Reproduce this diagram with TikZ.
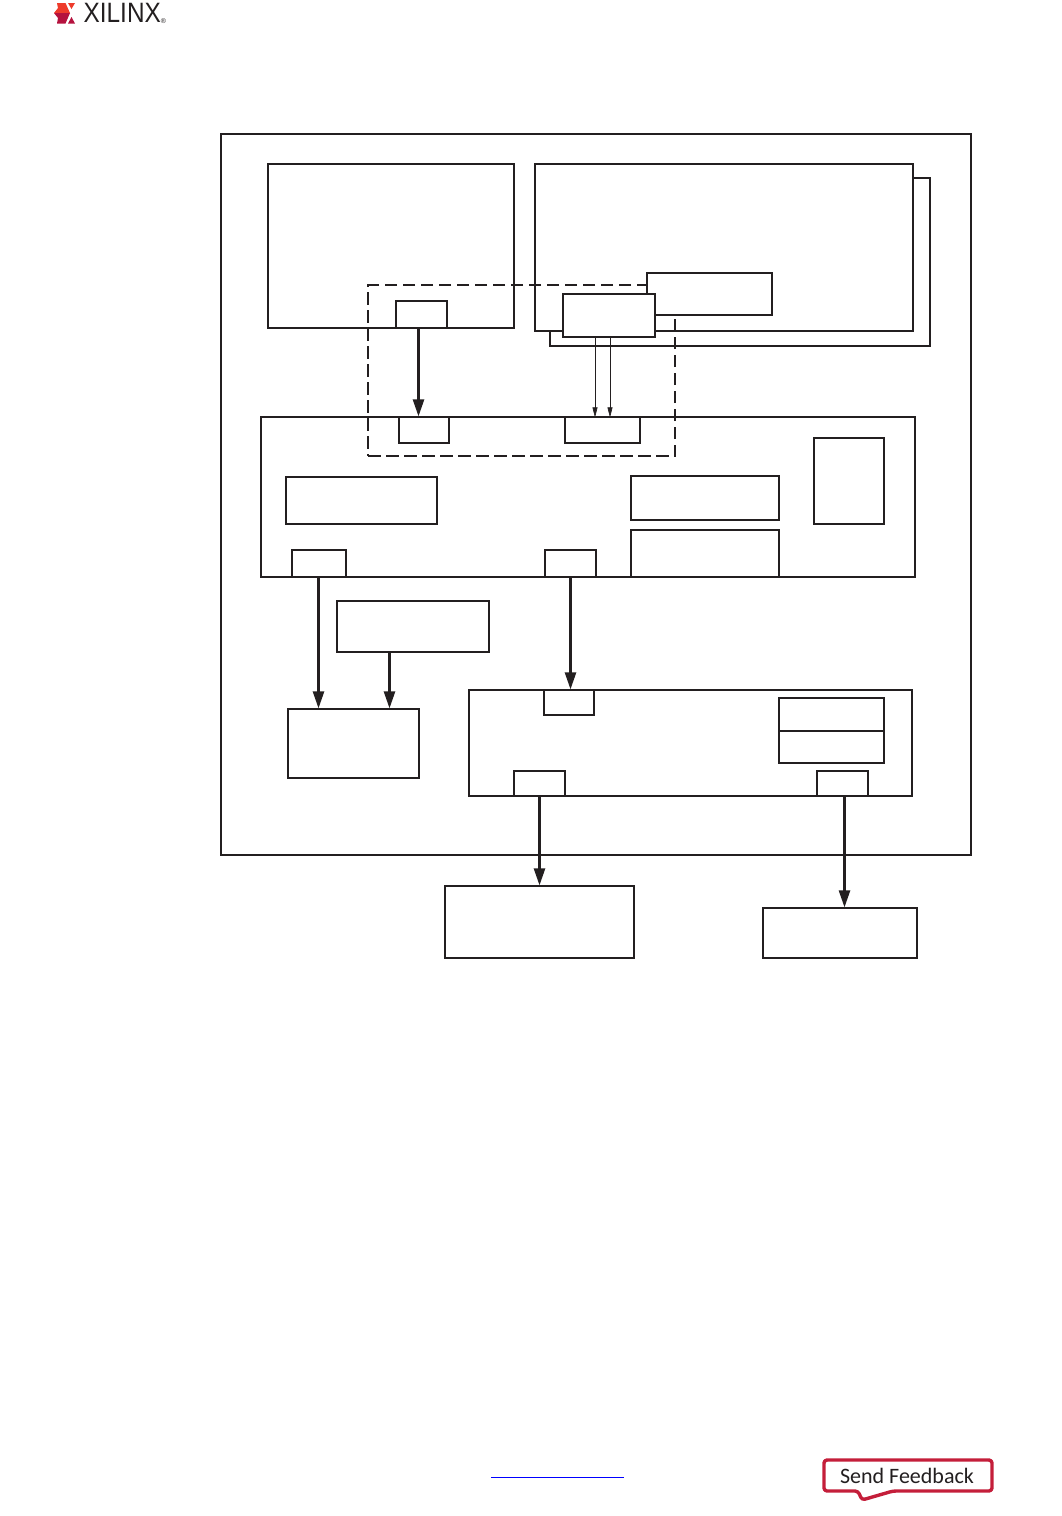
\documentclass[tikz,border=0pt]{standalone}
\usepackage{fontspec}
\usetikzlibrary{arrows.meta}
\newfontfamily\logofont{Liberation Sans}
\newfontfamily\feedfont{Carlito}
\definecolor{lineblk}{HTML}{231F20}
\definecolor{xlred}{HTML}{C41E3A}
\definecolor{xlorange}{HTML}{EE3B2B}
\definecolor{xlcrimson}{HTML}{B5123E}
\tikzstyle{blk}=[rectangle, draw=lineblk, fill=white, line width=1.2pt, inner sep=0pt]
\tikzstyle{dashbox}=[rectangle, draw=lineblk, line width=1.3pt, inner sep=0pt, dash pattern=on 12.5pt off 5.5pt]
\tikzstyle{dgraph}=[-{Triangle[length=17pt,width=11pt]}, draw=lineblk, line width=2.5pt]
\tikzstyle{tgraph}=[-{Triangle[length=10pt,width=5pt]}, shorten >=-1pt, draw=lineblk, line width=0.6pt]
\begin{document}
\begin{tikzpicture}[x=1pt,y=-1pt]
\useasboundingbox (0,0) rectangle (1062,1516);
% logo
\fill[xlorange] (57,3) -- (65.5,3) -- (70,13) -- (54,13) -- (58,8) -- cycle;
\fill[xlorange] (68,3) -- (75,3) -- (71.5,9) -- cycle;
\fill[xlcrimson] (54,13) -- (70,13) -- (65.5,23.5) -- (57,23.5) -- (58,18) -- cycle;
\fill[xlcrimson] (71.5,17) -- (75,23.5) -- (68,23.5) -- cycle;
\node[inner sep=0pt, anchor=west, text=lineblk, font=\logofont\fontsize{28}{28}\selectfont, xscale=0.87] (logo) at (83.5,13) {XILINX};
\node[inner sep=0pt, text=lineblk, font=\logofont\fontsize{7}{7}\selectfont] (reg) at (163.5,21) {\textregistered};
% outer
\node[blk,minimum width=750pt,minimum height=721pt] (chip) at (596,494.5) {};
\node[blk,minimum width=246pt,minimum height=164pt] (left) at (391,246) {};
\node[blk,minimum width=380pt,minimum height=168pt] (back) at (740,262) {};
\node[blk,minimum width=378pt,minimum height=167pt] (front) at (724,247.5) {};
\node[blk,minimum width=51pt,minimum height=27pt] (lport) at (421.5,314.5) {};
% middle
\node[blk,minimum width=654pt,minimum height=160pt] (main) at (588,497) {};
\node[dashbox,minimum width=307pt,minimum height=171pt] (dash) at (521.5,370.5) {};
\node[blk,minimum width=125pt,minimum height=42pt] (upper) at (709.5,294) {};
\node[blk,minimum width=92pt,minimum height=43pt] (lower) at (609,315.5) {};
\node[blk,minimum width=50pt,minimum height=26pt] (mport) at (424,430) {};
\node[blk,minimum width=75pt,minimum height=26pt] (nport) at (602.5,430) {};
\node[blk,minimum width=151pt,minimum height=47pt] (mleft) at (361.5,500.5) {};
\node[blk,minimum width=148pt,minimum height=44pt] (mright) at (705,498) {};
\node[blk,minimum width=148pt,minimum height=47pt] (mbot) at (705,553.5) {};
\node[blk,minimum width=70pt,minimum height=86pt] (mtall) at (849,481) {};
\node[blk,minimum width=54pt,minimum height=27pt] (oport) at (319,563.5) {};
\node[blk,minimum width=51pt,minimum height=27pt] (pport) at (570.5,563.5) {};
% lower
\node[blk,minimum width=152pt,minimum height=51pt] (side) at (413,626.5) {};
\node[blk,minimum width=131pt,minimum height=69pt] (mem) at (353.5,743.5) {};
\node[blk,minimum width=443pt,minimum height=106pt] (ctrl) at (690.5,743) {};
\node[blk,minimum width=50pt,minimum height=25pt] (cport) at (569,702.5) {};
\node[blk,minimum width=51pt,minimum height=25pt] (dport) at (539.5,783.5) {};
\node[blk,minimum width=51pt,minimum height=25pt] (eport) at (842.5,783.5) {};
\node[blk,minimum width=105pt,minimum height=33pt] (regt) at (831.5,714.5) {};
\node[blk,minimum width=105pt,minimum height=32pt] (regb) at (831.5,747) {};
% outside
\node[blk,minimum width=189pt,minimum height=72pt] (extl) at (539.5,922) {};
\node[blk,minimum width=154pt,minimum height=50pt] (extr) at (840,933) {};
% arrows
\draw[dgraph] ([xshift=-3pt]lport.south) -- ([xshift=-5.5pt]mport.north);
\draw[tgraph] ([xshift=-14pt]lower.south) -- ([xshift=-7.5pt]nport.north);
\draw[tgraph] ([xshift=1pt]lower.south) -- ([xshift=7.5pt]nport.north);
\draw[dgraph] ([xshift=-0.5pt]oport.south) -- ([xshift=-35pt]mem.north);
\draw[dgraph] ([xshift=-23.5pt]side.south) -- ([xshift=36pt]mem.north);
\draw[dgraph] (pport.south) -- ([xshift=1.5pt]cport.north);
\draw[dgraph] (dport.south) -- (extl.north);
\draw[dgraph] ([xshift=2pt]eport.south) -- ([xshift=4.5pt]extr.north);
% footer
\coordinate (linkl) at (491,1477);
\coordinate (linkr) at (624,1477);
\draw[blue, line width=1pt] (linkl) -- (linkr);
\draw[xlred, line width=3.4pt, line join=round, fill=white, rounded corners=3pt] (824,1460) -- (992,1460) -- (992,1491) -- (893,1491) -- (862,1500) -- (858,1491) -- (824,1491) -- cycle;
\node[inner sep=0pt, text=lineblk, font=\feedfont\fontsize{22}{22}\selectfont] (feed) at (907,1475.5) {Send Feedback};
\end{tikzpicture}
\end{document}
